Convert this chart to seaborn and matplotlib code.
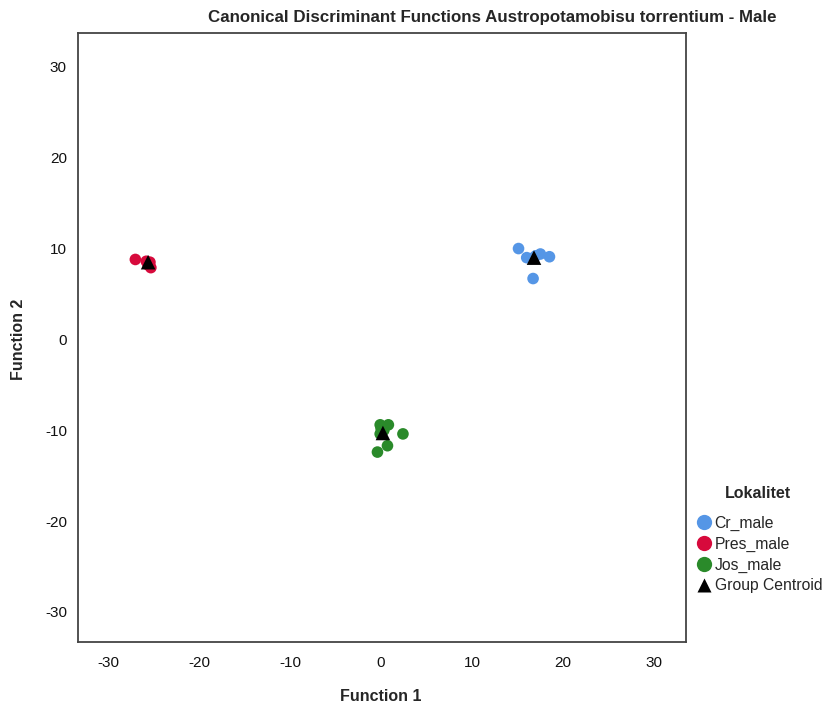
import pandas as pd
import numpy as np
import matplotlib.pyplot as plt
import seaborn as sns
from matplotlib.lines import Line2D

# Values
groups = ['Cr_male', 'Pres_male', 'Jos_male']
cr_f1 = [15.1, 16.0, 17.5, 18.5, 16.7, 17.0, 16.5]
cr_f2 = [10.0, 9.0, 9.4, 9.1, 6.7, 9.2, 8.9]
pres_f1 = [-27.0, -25.4, -25.3, -25.6, -25.8, -25.5]
pres_f2 = [8.8, 8.5, 7.9, 8.2, 8.6, 8.3]
jos_f1 = [-0.1, 0.8, -0.1, 2.4, 0.7, -0.4, 0.3, 0.0]
jos_f2 = [-9.4, -9.4, -10.4, -10.4, -11.7, -12.4, -10.0, -9.8]
centroid_f1 = [16.8, -25.6, 0.2]
centroid_f2 = [9.0, 8.5, -10.3]

colors = {'Cr_male': '#5596E6', 'Pres_male': '#D70A3C', 'Jos_male': '#2A8A2A'}

data = pd.DataFrame({
    'Function 1': cr_f1 + pres_f1 + jos_f1,
    'Function 2': cr_f2 + pres_f2 + jos_f2,
    'Lokalitet': ['Cr_male'] * len(cr_f1) + ['Pres_male'] * len(pres_f1) + ['Jos_male'] * len(jos_f1),
})
centroids = pd.DataFrame({'Function 1': centroid_f1, 'Function 2': centroid_f2, 'Lokalitet': groups})

sns.set_style('white')
plt.rcParams['font.family'] = ['Liberation Sans', 'DejaVu Sans']
plt.rcParams['axes.unicode_minus'] = False

fig = plt.figure(figsize=(8.24, 7.07), dpi=100)
ax = fig.add_axes([0.0947, 0.092, 0.7378, 0.861])

sns.scatterplot(data=data, x='Function 1', y='Function 2', hue='Lokalitet', palette=colors,
                hue_order=groups, s=70, edgecolor='none', legend=False, ax=ax)
sns.scatterplot(data=centroids, x='Function 1', y='Function 2', color='black', marker='^',
                s=110, edgecolor='none', legend=False, ax=ax)

ax.set_xlim(-33.3, 33.5)
ax.set_ylim(-33.3, 33.7)
ax.set_xticks([-30, -20, -10, 0, 10, 20, 30])
ax.set_yticks([-30, -20, -10, 0, 10, 20, 30])
ax.tick_params(length=0, labelsize=11, colors='#111111')
ax.tick_params(axis='x', pad=10)
ax.tick_params(axis='y', pad=8)
for sp in ax.spines.values():
    sp.set_color('#444444')
    sp.set_linewidth(1.3)
ax.set_xlabel('')
ax.set_ylabel('')

fig.text(0.4625, 0.004, 'Function 1', ha='center', va='bottom', fontsize=11.5, fontweight='bold')
fig.text(0.022, 0.52, 'Function 2', ha='center', va='center', rotation=90, fontsize=11.5, fontweight='bold')
fig.text(0.597, 0.975, 'Canonical Discriminant Functions Austropotamobisu torrentium - Male',
         ha='center', va='center', fontsize=12.2, fontweight='bold')

handles = [Line2D([], [], marker='o', linestyle='none', markersize=11, markerfacecolor=colors[g],
                  markeredgecolor='none', label=g) for g in groups]
handles.append(Line2D([], [], marker='^', linestyle='none', markersize=10, markerfacecolor='black',
                      markeredgecolor='none', label='Group Centroid'))
leg = fig.legend(handles=handles, title='Lokalitet', loc='upper left', bbox_to_anchor=(0.833, 0.322),
                 frameon=False, fontsize=11.3, handletextpad=0.0, labelspacing=0.36,
                 borderaxespad=0, handlelength=1.4, title_fontproperties={'weight': 'bold', 'size': 11.5})
leg._legend_box.align = 'left'
leg._legend_box.sep = 11
leg.get_title().set_position((32, 0))

fig.savefig('out.png', dpi=100, facecolor='white')
